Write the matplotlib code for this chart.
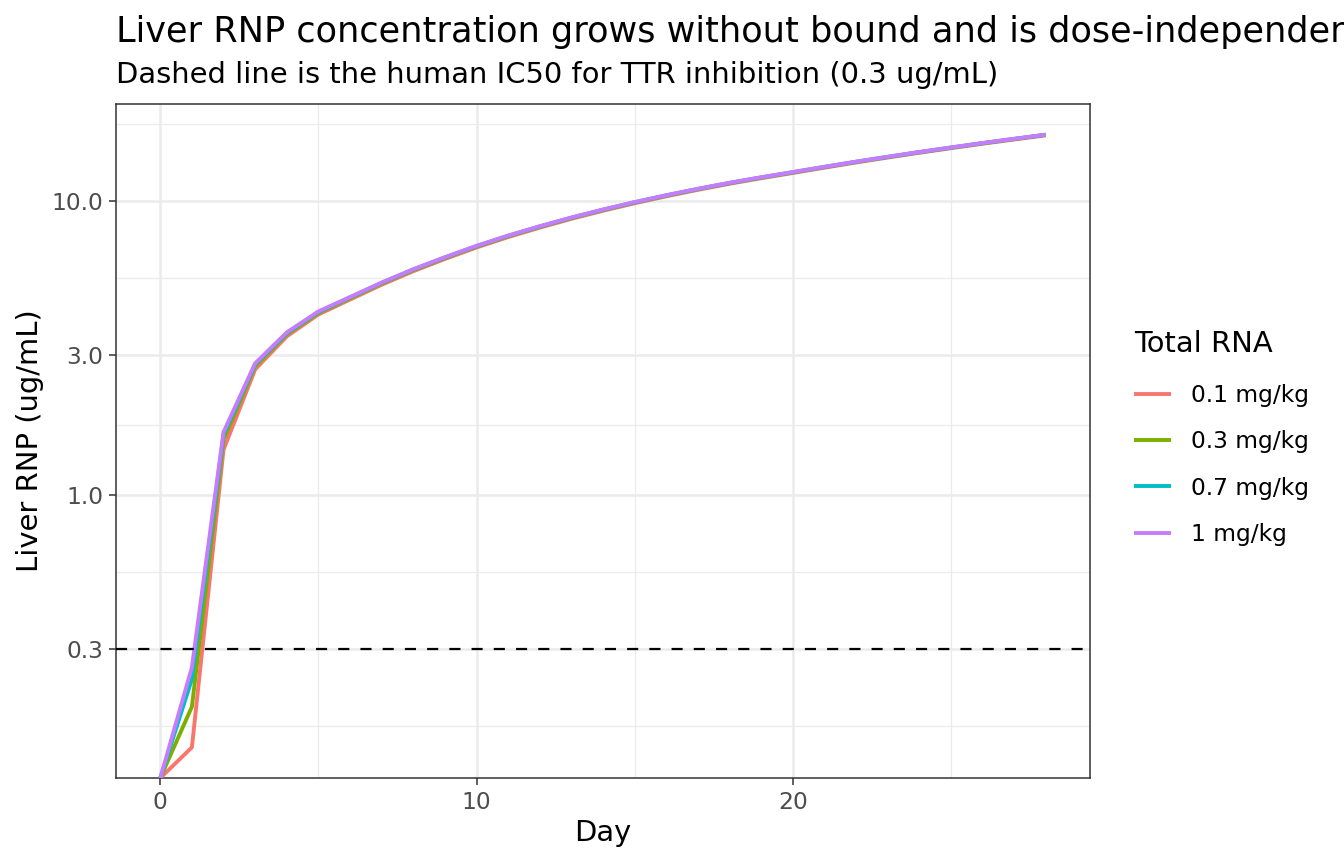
import numpy as np
import matplotlib
matplotlib.use("Agg")
import matplotlib.pyplot as plt
from matplotlib.ticker import FixedLocator, FuncFormatter

# ---- data ----
days = list(range(0, 29))
doses = ["0.1 mg/kg", "0.3 mg/kg", "0.7 mg/kg", "1 mg/kg"]
colors = ["#F8766D", "#7CAE00", "#00BFC4", "#C77CFF"]

rnp_01 = [0, 0.139, 1.43, 2.68, 3.47, 4.12, 4.63, 5.20, 5.78, 6.36, 6.96, 7.55, 8.13, 8.71,
          9.28, 9.84, 10.39, 10.93, 11.46, 11.97, 12.47, 13.00, 13.54, 14.07, 14.61, 15.14,
          15.68, 16.21, 16.75]
rnp_03 = [0, 0.191, 1.55, 2.75, 3.53, 4.17, 4.68, 5.25, 5.83, 6.41, 7.01, 7.60, 8.18, 8.76,
          9.33, 9.89, 10.44, 10.98, 11.51, 12.02, 12.52, 13.05, 13.59, 14.12, 14.66, 15.19,
          15.73, 16.26, 16.80]
rnp_07 = [0, 0.237, 1.61, 2.79, 3.56, 4.20, 4.71, 5.28, 5.86, 6.44, 7.04, 7.63, 8.21, 8.79,
          9.36, 9.92, 10.47, 11.01, 11.54, 12.05, 12.55, 13.08, 13.62, 14.15, 14.69, 15.22,
          15.76, 16.29, 16.83]
rnp_1 = [0, 0.26, 1.64, 2.81, 3.58, 4.22, 4.72, 5.29, 5.87, 6.45, 7.05, 7.64, 8.22, 8.80,
         9.37, 9.93, 10.48, 11.02, 11.55, 12.06, 12.56, 13.09, 13.63, 14.16, 14.70, 15.23,
         15.77, 16.30, 16.84]
series = [rnp_01, rnp_03, rnp_07, rnp_1]

ic50 = 0.3
y_breaks = [0.3, 1.0, 3.0, 10.0]
x_breaks = [0, 10, 20]

title = "Liver RNP concentration grows without bound and is dose-independent"
subtitle = "Dashed line is the human IC50 for TTR inhibition (0.3 ug/mL)"

# ---- figure ----
plt.rcParams['font.family'] = ['DejaVu Sans']
W, H = 1344, 864
fig = plt.figure(figsize=(W/100, H/100), dpi=100)
ax = fig.add_axes([116/W, 1-778/H, (1090-116)/W, (778-104)/H])

# limits as ggplot (5% expansion, log space; infinite values ignored)
allv = np.concatenate([np.asarray(s, float) for s in series])
finite = allv[allv > 0]
lmin, lmax = np.log10(finite.min()), np.log10(finite.max())
lr = lmax - lmin
ylo, yhi = 10**(lmin - 0.05*lr), 10**(lmax + 0.05*lr)
xr = max(days) - min(days)
xlo, xhi = min(days) - 0.05*xr, max(days) + 0.05*xr

ax.set_yscale('log')
ax.set_xlim(xlo, xhi)
ax.set_ylim(ylo, yhi)

# grid
lb = np.log10(y_breaks)
mids = list((lb[:-1] + lb[1:]) / 2)
minor_y = [lb[0] - (lb[1]-lb[0])/2] + mids + [lb[-1] + (lb[-1]-lb[-2])/2]
for m in minor_y:
    ax.axhline(10**m, color="#EBEBEB", lw=0.9, zorder=0)
for b in y_breaks:
    ax.axhline(b, color="#EBEBEB", lw=1.8, zorder=0)
for m in [5, 15, 25]:
    ax.axvline(m, color="#EBEBEB", lw=0.9, zorder=0)
for b in x_breaks:
    ax.axvline(b, color="#EBEBEB", lw=1.8, zorder=0)

# lines (zero values drawn at panel bottom, like ggplot's -Inf)
for s, lab, c in zip(series, doses, colors):
    v = np.asarray(s, float)
    v = np.where(v > 0, v, ylo)
    ax.plot(days, v, color=c, lw=2.8, label=lab, solid_capstyle='butt', zorder=3)

ax.axhline(ic50, color="black", lw=1.6, linestyle=(0, (5.0, 5.0)), zorder=4)

ax.yaxis.set_major_locator(FixedLocator(y_breaks))
ax.yaxis.set_minor_locator(FixedLocator([]))
ax.yaxis.set_major_formatter(FuncFormatter(lambda v, p: f"{v:.1f}"))
ax.xaxis.set_major_locator(FixedLocator(x_breaks))
ax.xaxis.set_minor_locator(FixedLocator([]))

for sp in ax.spines.values():
    sp.set_color("#333333")
    sp.set_linewidth(1.1)
ax.tick_params(axis='both', which='major', length=5.3, width=1.1, color="#333333",
               labelcolor="#4D4D4D", labelsize=16.8, pad=4)

ax.set_xlabel("Day", fontsize=20.9, color="black", labelpad=4)
ax.set_ylabel("Liver RNP (ug/mL)", fontsize=20.9, color="black", labelpad=5)

fig.text(116/W, 1-42/H, title, fontsize=25.3, ha='left', va='baseline', color='black')
fig.text(116/W, 1-83/H, subtitle, fontsize=20.9, ha='left', va='baseline', color='black')

leg = fig.legend(loc='upper left', bbox_to_anchor=(1134/W, 1-330/H), frameon=False,
                 title="Total RNA", title_fontsize=20.9, fontsize=16.8,
                 handlelength=1.6, handletextpad=0.85, labelspacing=0.99,
                 borderpad=0, borderaxespad=0, alignment='left')
leg._legend_box.sep = 19

fig.savefig("out.png", dpi=100)
